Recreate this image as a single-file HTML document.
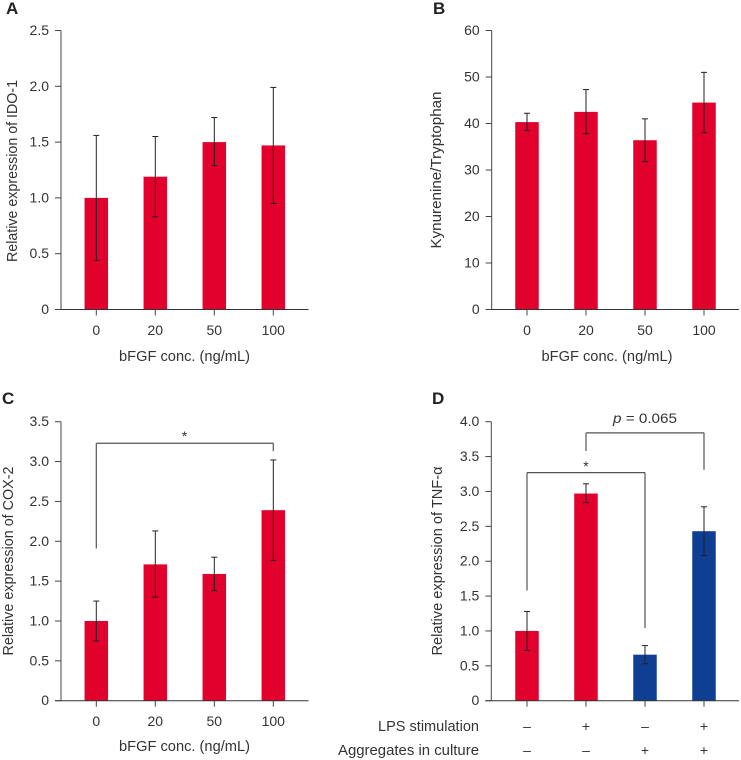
<!DOCTYPE html>
<html lang="en">
<head>
<meta charset="utf-8">
<title>bFGF expression charts</title>
<style>
html,body{margin:0;padding:0;background:#fff;width:741px;height:760px;overflow:hidden}
svg{display:block}
text{font-family:"Liberation Sans",sans-serif;fill:#333;font-size:14px}
.panel-letter{font-weight:bold;font-size:17px;fill:#222}
.axis-title{font-size:15px}
</style>
</head>
<body>
<svg id="figure" xmlns="http://www.w3.org/2000/svg" width="741" height="760" viewBox="0 0 741 760">
  <rect width="741" height="760" fill="#fff"/>

  <g id="panel-a">
    <text class="panel-letter" x="6" y="14">A</text>
    <text class="axis-title" transform="translate(17,171) rotate(-90)" text-anchor="middle" textLength="182" lengthAdjust="spacingAndGlyphs">Relative expression of IDO-1</text>
    <text class="axis-title" x="184.5" y="361" text-anchor="middle" textLength="131" lengthAdjust="spacingAndGlyphs">bFGF conc. (ng/mL)</text>
  </g>

  <g id="panel-b">
    <text class="panel-letter" x="433" y="14">B</text>
    <text class="axis-title" transform="translate(441,170) rotate(-90)" text-anchor="middle" textLength="157" lengthAdjust="spacingAndGlyphs">Kynurenine/Tryptophan</text>
    <text class="axis-title" x="607" y="361" text-anchor="middle" textLength="131" lengthAdjust="spacingAndGlyphs">bFGF conc. (ng/mL)</text>
  </g>

  <g id="panel-c">
    <text class="panel-letter" x="2" y="404">C</text>
    <text class="axis-title" transform="translate(13,561) rotate(-90)" text-anchor="middle" textLength="189" lengthAdjust="spacingAndGlyphs">Relative expression of COX-2</text>
    <text class="axis-title" x="184.5" y="751" text-anchor="middle" textLength="131" lengthAdjust="spacingAndGlyphs">bFGF conc. (ng/mL)</text>
    <text x="184.5" y="441" text-anchor="middle" font-size="12">*</text>
  </g>

  <g id="panel-d">
    <text class="panel-letter" x="432" y="404">D</text>
    <text class="axis-title" transform="translate(442,561) rotate(-90)" text-anchor="middle" textLength="189" lengthAdjust="spacingAndGlyphs">Relative expression of TNF-α</text>
    <text x="586" y="471" text-anchor="middle" font-size="12">*</text>
    <text x="645" y="423" text-anchor="middle" textLength="64" lengthAdjust="spacingAndGlyphs"><tspan font-style="italic">p</tspan> = 0.065</text>
    <text class="axis-title" x="479" y="731" text-anchor="end" textLength="101" lengthAdjust="spacingAndGlyphs">LPS stimulation</text>
    <text class="axis-title" x="479" y="755" text-anchor="end" textLength="141" lengthAdjust="spacingAndGlyphs">Aggregates in culture</text>
  </g>
</svg>

<script>
const categories = ['0', '20', '50', '100'];

const aTickLabels = ['0', '0.5', '1.0', '1.5', '2.0', '2.5'];
const aValues = [1.0, 1.19, 1.5, 1.47];
const aErrLow = [0.44, 0.83, 1.29, 0.95];
const aErrHigh = [1.56, 1.55, 1.72, 1.99];

const bTickLabels = ['0', '10', '20', '30', '40', '50', '60'];
const bValues = [40.3, 42.5, 36.4, 44.5];
const bErrLow = [38.5, 37.8, 31.8, 38.0];
const bErrHigh = [42.2, 47.3, 41.0, 51.0];

const cTickLabels = ['0', '0.5', '1.0', '1.5', '2.0', '2.5', '3.0', '3.5'];
const cValues = [1.0, 1.71, 1.59, 2.39];
const cErrLow = [0.75, 1.3, 1.38, 1.76];
const cErrHigh = [1.25, 2.13, 1.8, 3.02];
const cBracketStar = [1.91, 3.23, 3.13];

const dTickLabels = ['0', '0.5', '1.0', '1.5', '2.0', '2.5', '3.0', '3.5', '4.0'];
const dValues = [1.0, 2.97, 0.66, 2.43];
const dErrLow = [0.72, 2.84, 0.53, 2.08];
const dErrHigh = [1.28, 3.11, 0.79, 2.78];
const dGroups = ['red', 'red', 'blue', 'blue'];
const dLpsRow = ['–', '+', '–', '+'];
const dAggregatesRow = ['–', '–', '+', '+'];
const dBracketStar = [1.58, 3.27, 1.04];
const dBracketP = [3.58, 3.84, 3.31];

const SVG_NS = 'http://www.w3.org/2000/svg';
const groupColor = { red: '#e2002d', blue: '#0f3f93' };

function line(parent, name, x1, y1, x2, y2, stroke, width) {
  const el = document.createElementNS(SVG_NS, 'line');
  
  
  el.setAttribute('x1', x1);
  el.setAttribute('y1', y1);
  el.setAttribute('x2', x2);
  el.setAttribute('y2', y2);
  el.setAttribute('stroke', stroke);
  el.setAttribute('stroke-width', width);
  parent.appendChild(el);
}

function label(parent, name, x, y, anchor, content) {
  const el = document.createElementNS(SVG_NS, 'text');
  
  
  el.setAttribute('x', x);
  el.setAttribute('y', y);
  el.setAttribute('text-anchor', anchor);
  el.textContent = content;
  parent.appendChild(el);
}

function drawPanel(opts) {
  const parent = document.getElementById(opts.id);
  const max = parseFloat(opts.tickLabels[opts.tickLabels.length - 1]);
  const yScale = function (v) { return opts.y0 - (v / max) * (opts.y0 - opts.yTop); };
  const xScale = function (i) { return opts.x0 + i * opts.step; };

  opts.values.forEach(function (v, i) {
    const bar = document.createElementNS(SVG_NS, 'rect');
    
    
    bar.setAttribute('x', xScale(i) - 11.75);
    bar.setAttribute('y', yScale(v));
    bar.setAttribute('width', 23.5);
    bar.setAttribute('height', opts.y0 - yScale(v));
    bar.setAttribute('fill', groupColor[opts.groups ? opts.groups[i] : 'red']);
    parent.appendChild(bar);
  });

  line(parent, 'y-axis-' + opts.key, opts.axisX, opts.yTop, opts.axisX, opts.y0, '#444', 1);
  line(parent, 'x-axis-' + opts.key, opts.axisX - 6, opts.y0, opts.axisEnd, opts.y0, '#333', 1);

  opts.tickLabels.forEach(function (t) {
    const y = yScale(parseFloat(t));
    line(parent, 'y-tick-' + opts.key + '-' + t, opts.axisX - 6, y, opts.axisX, y, '#444', 1);
    label(parent, 'y-tick-label-' + opts.key + '-' + t, opts.axisX - 12, y + 4.5, 'end', t);
  });

  opts.values.forEach(function (v, i) {
    const x = xScale(i);
    line(parent, 'x-tick-' + opts.key + '-' + i, x, opts.y0, x, opts.y0 + 6, '#444', 1);
    if (opts.categories) {
      label(parent, 'x-tick-label-' + opts.key + '-' + i, x, opts.y0 + 25.5, 'middle', opts.categories[i]);
    }
    const lo = yScale(opts.errLow[i]);
    const hi = yScale(opts.errHigh[i]);
    line(parent, 'error-bar-' + opts.key + '-' + i, x, lo, x, hi, '#222', 1);
    line(parent, 'error-cap-high-' + opts.key + '-' + i, x - 3, hi, x + 3, hi, '#222', 1);
    line(parent, 'error-cap-low-' + opts.key + '-' + i, x - 3, lo, x + 3, lo, '#222', 1);
  });

  (opts.brackets || []).forEach(function (b, n) {
    const xa = xScale(b.from);
    const xb = xScale(b.to);
    const top = yScale(b.levels[1]);
    line(parent, 'bracket-' + opts.key + '-' + n + '-left', xa, yScale(b.levels[0]), xa, top, '#555', 1.2);
    line(parent, 'bracket-' + opts.key + '-' + n + '-top', xa, top, xb, top, '#555', 1.2);
    line(parent, 'bracket-' + opts.key + '-' + n + '-right', xb, yScale(b.levels[2]), xb, top, '#555', 1.2);
  });

  return xScale;
}

drawPanel({ id: 'panel-a', key: 'a', tickLabels: aTickLabels, values: aValues, errLow: aErrLow, errHigh: aErrHigh,
  categories: categories, x0: 96.3, step: 59, axisX: 61, axisEnd: 308.5, y0: 309.5, yTop: 30.5 });

drawPanel({ id: 'panel-b', key: 'b', tickLabels: bTickLabels, values: bValues, errLow: bErrLow, errHigh: bErrHigh,
  categories: categories, x0: 527, step: 59, axisX: 491.7, axisEnd: 739, y0: 309.5, yTop: 30.5 });

drawPanel({ id: 'panel-c', key: 'c', tickLabels: cTickLabels, values: cValues, errLow: cErrLow, errHigh: cErrHigh,
  categories: categories, x0: 96.3, step: 59, axisX: 61, axisEnd: 308.5, y0: 700.7, yTop: 421.7,
  brackets: [{ from: 0, to: 3, levels: cBracketStar }] });

const dX = drawPanel({ id: 'panel-d', key: 'd', tickLabels: dTickLabels, values: dValues, errLow: dErrLow, errHigh: dErrHigh,
  groups: dGroups, x0: 527, step: 59, axisX: 491.3, axisEnd: 739, y0: 700.7, yTop: 421.7,
  brackets: [{ from: 0, to: 2, levels: dBracketStar }, { from: 1, to: 3, levels: dBracketP }] });

const panelD = document.getElementById('panel-d');
dLpsRow.forEach(function (s, i) {
  label(panelD, 'lps-sign-' + i, dX(i), 731, 'middle', s);
});
dAggregatesRow.forEach(function (s, i) {
  label(panelD, 'aggregates-sign-' + i, dX(i), 755, 'middle', s);
});
</script>
</body>
</html>
